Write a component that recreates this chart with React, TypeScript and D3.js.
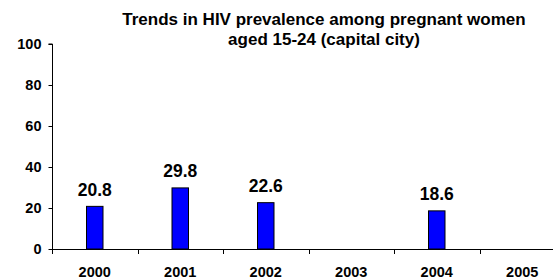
import React, { useRef, useEffect } from "react";
import { select, scaleBand, scaleLinear, axisLeft } from "d3";

// data
const years = ["2000", "2001", "2002", "2003", "2004", "2005"];
const prevalence: (number | null)[] = [20.8, 29.8, 22.6, null, 18.6, null];
const yTicks = [0, 20, 40, 60, 80, 100];
const titleLines = [
  "Trends in HIV prevalence among pregnant women",
  "aged 15-24 (capital city)",
];

const W = 553;
const H = 279;
const FONT = "'Liberation Sans', Arial, sans-serif";

const App = () => {
  const svgRef = useRef<SVGSVGElement>(null);

  useEffect(() => {
    const svg = select(svgRef.current);
    svg.selectAll("*").remove();

    //scales - plot runs past the right edge like the original
    const x = scaleBand().domain(years).range([52, 565]).padding(0);
    const y = scaleLinear().domain([0, 100]).range([249, 44]);

    //title
    svg
      .append("g")
      .selectAll("text")
      .data(titleLines)
      .join("text")
      .attr("x", 324)
      .attr("y", (d, i) => 25 + i * 19.5)
      .attr("text-anchor", "middle")
      .attr("font-family", FONT)
      .attr("font-weight", "bold")
      .attr("font-size", 17)
      .text((d) => d);

    //y axis
    const yAxis = axisLeft(y).tickValues(yTicks).tickSize(4).tickPadding(7);
    const gy = svg.append("g").attr("transform", "translate(52.5,0)").call(yAxis);
    gy.select(".domain").attr("d", `M-4,${y(100)}H0V${y(0) + 5}`).attr("stroke", "#000");
    gy.selectAll(".tick text")
      .attr("font-family", FONT)
      .attr("font-weight", "bold")
      .attr("font-size", 14.5)
      .attr("fill", "#000");

    //x axis line + boundary ticks
    svg
      .append("line")
      .attr("x1", 52)
      .attr("x2", W)
      .attr("y1", y(0) + 0.5)
      .attr("y2", y(0) + 0.5)
      .attr("stroke", "#000");
    svg
      .append("g")
      .selectAll("line")
      .data(years.slice(1))
      .join("line")
      .attr("x1", (d) => Math.round(x(d)!) + 0.5)
      .attr("x2", (d) => Math.round(x(d)!) + 0.5)
      .attr("y1", y(0))
      .attr("y2", y(0) + 5)
      .attr("stroke", "#000");
    svg
      .append("g")
      .selectAll("text")
      .data(years)
      .join("text")
      .attr("x", (d) => x(d)! + x.bandwidth() / 2)
      .attr("y", 277)
      .attr("text-anchor", "middle")
      .attr("font-family", FONT)
      .attr("font-weight", "bold")
      .attr("font-size", 14.5)
      .text((d) => d);

    //bars
    const rows = years
      .map((yr, i) => ({ yr, v: prevalence[i] }))
      .filter((d) => d.v !== null) as { yr: string; v: number }[];
    const barW = 16.5;
    svg
      .append("g")
      .selectAll("rect")
      .data(rows)
      .join("rect")
      .attr("x", (d) => x(d.yr)! + x.bandwidth() / 2 - barW / 2)
      .attr("y", (d) => y(d.v))
      .attr("width", barW)
      .attr("height", (d) => y(0) - y(d.v))
      .attr("fill", "#0000ff")
      .attr("stroke", "#000")
      .attr("stroke-width", 1);

    //value labels
    svg
      .append("g")
      .selectAll("text")
      .data(rows)
      .join("text")
      .attr("x", (d) => x(d.yr)! + x.bandwidth() / 2)
      .attr("y", (d) => y(d.v) - 10.5)
      .attr("text-anchor", "middle")
      .attr("font-family", FONT)
      .attr("font-weight", "bold")
      .attr("font-size", 17.5)
      .text((d) => d.v.toFixed(1));
  }, []);

  return (
    <svg
      ref={svgRef}
      width={W}
      height={H}
      style={{ position: "absolute", left: 0, top: 0, background: "#fff" }}
    />
  );
};

export default App;
